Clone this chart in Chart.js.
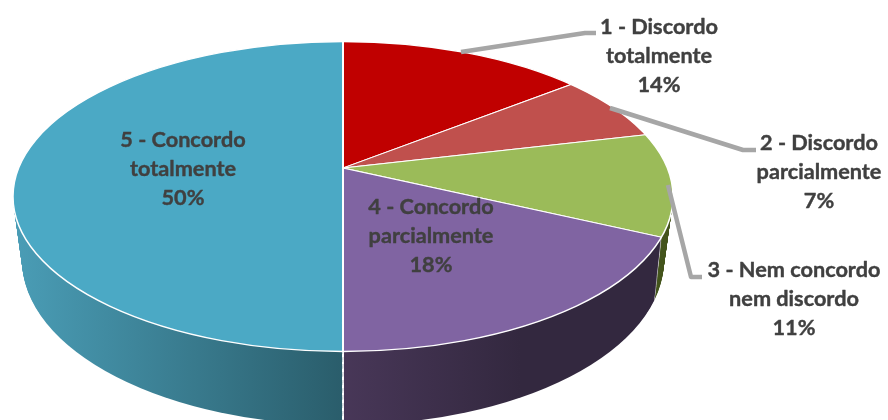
<!DOCTYPE html>
<html>
<head>
<meta charset="utf-8">
<style>
  html, body { margin: 0; padding: 0; background: #fff; }
  canvas { display: block; }
</style>
<script src="https://cdn.jsdelivr.net/npm/chart.js@4"></script>
</head>
<body>
<canvas id="myChart" width="888" height="420"></canvas>
<script>
var categories = ['1 - Discordo totalmente', '2 - Discordo parcialmente', '3 - Nem concordo nem discordo', '4 - Concordo parcialmente', '5 - Concordo totalmente'];
var values = [14, 7, 11, 18, 50];
var wrappedNames = [
  ['1 - Discordo', 'totalmente'],
  ['2 - Discordo', 'parcialmente'],
  ['3 - Nem concordo', 'nem discordo'],
  ['4 - Concordo', 'parcialmente'],
  ['5 - Concordo', 'totalmente']
];
var sliceColors = ['#C00000', '#C0504D', '#9BBB59', '#8064A2', '#4BA9C5'];

// where each label sits (centre x, first line y) and its leader line
var labelSpots = [[659, 27], [819, 143], [794, 270], [431, 207], [183, 140]];
var leaders = [
  [[461, 52], [585, 33], [596, 33]],
  [[610, 108], [743, 150], [756, 150]],
  [[668, 185], [691, 277], [702, 277]]
];

// top face ellipse, bottom rim ellipse, slice apex
var topFace = { x: 343, y: 196.5, rx: 330, ry: 155 };
var bottomRim = { x: 343, y: 260, rx: 321, ry: 165 };
var apex = { x: 343, y: 168 };
var squash = 0.45;
var shear = 0.006;
var reach = 480; // slices overshoot the ellipse, the clip trims them

function ellipsePath(ctx, e) {
  ctx.beginPath();
  ctx.ellipse(e.x, e.y, e.rx, e.ry, 0, 0, Math.PI * 2);
}

function tiltTo(ctx, arc, apexY) {
  var k = reach / arc.outerRadius;
  ctx.translate(apex.x, apexY);
  ctx.transform(1, shear, 0, 1, 0, 0);
  ctx.scale(k, k * squash);
  ctx.translate(-arc.x, -arc.y);
}

function wallFills(ctx, arc) {
  // gradients live in the arc's own space, so map page x back first
  var k = reach / arc.outerRadius;
  function toArcX(px) { return arc.x + (px - apex.x) / k; }
  function ramp(x0, c0, x1, c1) {
    var g = ctx.createLinearGradient(toArcX(x0), 0, toArcX(x1), 0);
    g.addColorStop(0, c0);
    g.addColorStop(1, c1);
    return g;
  }
  return [
    '#600000',
    '#60282a',
    '#46561f',
    ramp(343, '#483758', 520, '#33283F'),
    ramp(14, '#4A9DB6', 343, '#2A5D6B')
  ];
}

var tiltPlugin = {
  id: 'tilt',
  beforeDatasetsDraw: function (chart) {
    var ctx = chart.ctx;
    var arcs = chart.getDatasetMeta(0).data;
    var fills = wallFills(ctx, arcs[0]);
    var depth = Math.round(bottomRim.y - topFace.y);

    // side wall: stack the same slices from the bottom rim up to the top face
    for (var d = depth; d > 0; d--) {
      var t = d / depth;
      var layer = {
        x: topFace.x,
        y: topFace.y + (bottomRim.y - topFace.y) * t,
        rx: topFace.rx + (bottomRim.rx - topFace.rx) * t,
        ry: topFace.ry + (bottomRim.ry - topFace.ry) * t
      };
      ctx.save();
      ellipsePath(ctx, layer);
      ctx.clip();
      tiltTo(ctx, arcs[0], apex.y + (bottomRim.y - topFace.y) * t);
      arcs.forEach(function (arc, i) {
        var keep = arc.options;
        arc.options = Object.assign({}, keep, { backgroundColor: fills[i] });
        arc.draw(ctx);
        arc.options = keep;
      });
      ctx.restore();
    }

    // the library then draws the top face inside this clip and tilt
    ctx.save();
    ellipsePath(ctx, topFace);
    ctx.clip();
    tiltTo(ctx, arcs[0], apex.y);
  },
  afterDatasetsDraw: function (chart) {
    var ctx = chart.ctx;
    ctx.restore();

    ctx.strokeStyle = '#fff';
    ctx.lineWidth = 1.5;
    ellipsePath(ctx, topFace);
    ctx.stroke();

    ctx.strokeStyle = '#A6A6A6';
    ctx.lineWidth = 4.5;
    ctx.lineJoin = 'round';
    leaders.forEach(function (pts) {
      ctx.beginPath();
      pts.forEach(function (p, i) {
        if (i === 0) ctx.moveTo(p[0], p[1]);
        else ctx.lineTo(p[0], p[1]);
      });
      ctx.stroke();
    });

    ctx.fillStyle = '#404040';
    ctx.strokeStyle = '#404040';
    ctx.lineWidth = 0.4;
    ctx.font = 'bold 21.7px Lato';
    ctx.textAlign = 'center';
    ctx.textBaseline = 'middle';
    values.forEach(function (v, i) {
      var lines = wrappedNames[i].concat([v + '%']);
      lines.forEach(function (text, row) {
        var y = labelSpots[i][1] + row * 29.2;
        ctx.fillText(text, labelSpots[i][0], y);
        ctx.strokeText(text, labelSpots[i][0], y);
      });
    });
  }
};

var chart = new Chart(document.getElementById('myChart'), {
  type: 'pie',
  data: {
    labels: categories,
    datasets: [{
      data: values,
      backgroundColor: sliceColors,
      borderColor: '#fff',
      borderWidth: 0.9,
      clip: false
    }]
  },
  options: {
    responsive: false,
    animation: false,
    layout: { padding: 0 },
    plugins: {
      legend: { display: false },
      title: { display: false },
      tooltip: { enabled: false }
    }
  },
  plugins: [tiltPlugin]
});
</script>
</body>
</html>
